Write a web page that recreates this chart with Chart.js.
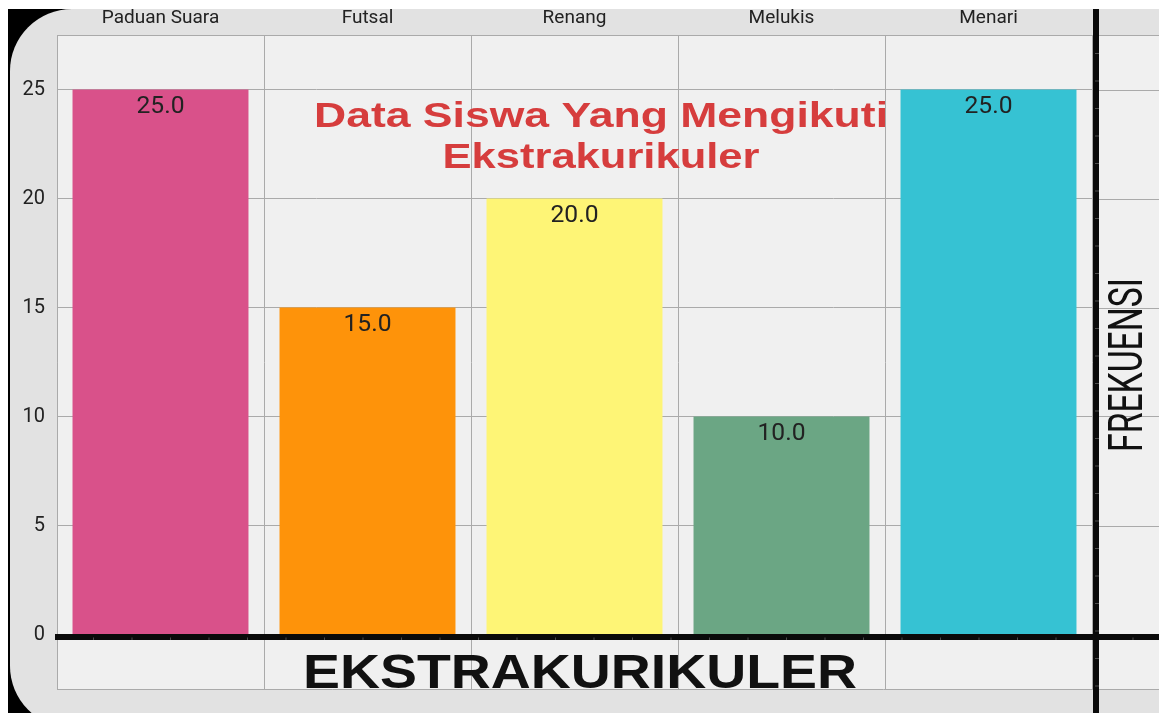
<!DOCTYPE html>
<html>
<head>
<meta charset="utf-8">
<script src="https://cdn.jsdelivr.net/npm/chart.js@4.4.1/dist/chart.umd.min.js"></script>
<style>
  html, body { margin: 0; padding: 0; background: #fff; }
  #wrap { width: 1159px; height: 713px; position: relative; }
</style>
</head>
<body>
<div id="wrap"><canvas id="chart"></canvas></div>
<script>
// data
const categories = ['Paduan Suara', 'Futsal', 'Renang', 'Melukis', 'Menari'];
const frekuensi = [25, 15, 20, 10, 25];
const barColors = ['#d9518a', '#fe930a', '#fef576', '#6ba684', '#36c2d3'];
const yTicks = [0, 5, 10, 15, 20, 25];
const titleLines = ['Data Siswa Yang Mengikuti', 'Ekstrakurikuler'];
const xTitle = 'EKSTRAKURIKULER';
const yTitle = 'FREKUENSI';

const W = 1159, H = 713;

// draws text stretched to a given width (the screenshot is wide)
function wideText(ctx, text, x, y, width) {
  const tw = ctx.measureText(text).width;
  ctx.save();
  ctx.translate(x, y);
  ctx.scale(width / tw, 1);
  ctx.fillText(text, 0, 0);
  ctx.restore();
}

// frame, plot background and the grid part right of the last category
const backdrop = {
  id: 'backdrop',
  beforeDraw(chart) {
    const { ctx, chartArea: a } = chart;
    ctx.save();
    ctx.fillStyle = '#fff';
    ctx.fillRect(0, 0, W, H);
    ctx.fillStyle = '#000';
    ctx.fillRect(8, 9, W - 8, H - 9);
    ctx.fillStyle = '#e2e2e2';
    ctx.beginPath();
    ctx.roundRect(10, 9, W + 60, H + 6, 62);
    ctx.fill();
    ctx.fillStyle = '#f0f0f0';
    ctx.fillRect(a.left, a.top, W - a.left, a.bottom - a.top);
    ctx.restore();
  },
  beforeDatasetsDraw(chart) {
    const { ctx, chartArea: a, scales } = chart;
    ctx.save();
    ctx.strokeStyle = '#aaaaaa';
    ctx.lineWidth = 1;
    ctx.beginPath();
    yTicks.forEach(v => {
      const y = Math.round(scales.y.getPixelForValue(v)) + 0.5;
      ctx.moveTo(a.right, y); ctx.lineTo(W, y);
    });
    ctx.moveTo(a.left, a.top + 0.5); ctx.lineTo(W, a.top + 0.5);
    ctx.moveTo(a.left, a.bottom + 0.5); ctx.lineTo(W, a.bottom + 0.5);
    ctx.stroke();
    ctx.restore();
  }
};

// value labels, heavy axis lines and the overlaid texts
const overlay = {
  id: 'overlay',
  afterDatasetsDraw(chart) {
    const { ctx, scales } = chart;
    const meta = chart.getDatasetMeta(0);
    ctx.save();

    ctx.fillStyle = '#222';
    ctx.font = '23px Roboto';
    ctx.textAlign = 'center';
    ctx.textBaseline = 'middle';
    meta.data.forEach((bar, i) => {
      wideText(ctx, frekuensi[i].toFixed(1), bar.x, bar.y + 18, 48);
    });

    // thick black axis lines
    const y0 = scales.y.getPixelForValue(0);
    ctx.fillStyle = '#0a0a0a';
    ctx.fillRect(55, y0 - 0.5, W - 55, 6);
    ctx.fillRect(1093, 9, 6, H - 9);
    ctx.strokeStyle = 'rgba(120,120,120,0.6)';
    ctx.lineWidth = 1;
    ctx.beginPath();
    for (let x = 93.5; x < W; x += 38.5) {
      if (Math.abs(x - 1096) < 4) continue;
      ctx.moveTo(x, y0 + 3); ctx.lineTo(x, y0 + 5.5);
    }
    for (let y = 53.5; y < H; y += 27.5) {
      if (Math.abs(y - y0 - 2.5) < 4) continue;
      ctx.moveTo(1095, y); ctx.lineTo(1099, y);
    }
    ctx.stroke();

    // chart title
    ctx.fillStyle = '#d63d3d';
    ctx.font = 'bold 35px "Liberation Sans"';
    ctx.textBaseline = 'alphabetic';
    wideText(ctx, titleLines[0], 601, 127, 574);
    wideText(ctx, titleLines[1], 601, 168, 317);

    // x title
    ctx.fillStyle = '#111';
    ctx.font = 'bold 49px "Liberation Sans"';
    wideText(ctx, xTitle, 580, 688, 554);

    // y title, narrow
    ctx.font = '48px Roboto';
    const tw = ctx.measureText(yTitle).width;
    ctx.translate(1142, 365);
    ctx.rotate(-Math.PI / 2);
    ctx.scale(174 / tw, 1);
    ctx.fillText(yTitle, 0, 0);
    ctx.restore();
  }
};

new Chart(document.getElementById('chart'), {
  type: 'bar',
  data: {
    labels: categories,
    datasets: [{
      data: frekuensi,
      backgroundColor: barColors,
      borderWidth: 0,
      barPercentage: 0.85,
      categoryPercentage: 1
    }]
  },
  options: {
    responsive: true,
    maintainAspectRatio: false,
    animation: false,
    layout: { padding: { left: 0, top: 0, right: 67, bottom: 21 } },
    plugins: {
      legend: { display: false },
      tooltip: { enabled: false }
    },
    scales: {
      x: {
        position: 'top',
        afterFit: s => { s.height = 35; },
        grid: { color: '#aaaaaa', drawTicks: false, offset: true },
        border: { color: '#aaaaaa' },
        ticks: {
          color: '#222',
          font: { family: 'Roboto', size: 19 },
          padding: 5,
          maxRotation: 0
        }
      },
      y: {
        min: -2.5,
        max: 27.5,
        afterFit: s => { s.width = 57; },
        afterBuildTicks: s => { s.ticks = yTicks.map(v => ({ value: v })); },
        grid: { color: '#aaaaaa', drawTicks: false },
        border: { color: '#aaaaaa' },
        ticks: {
          color: '#222',
          font: { family: 'Roboto', size: 20 },
          padding: 12
        }
      }
    }
  },
  plugins: [backdrop, overlay]
});
</script>
</body>
</html>
